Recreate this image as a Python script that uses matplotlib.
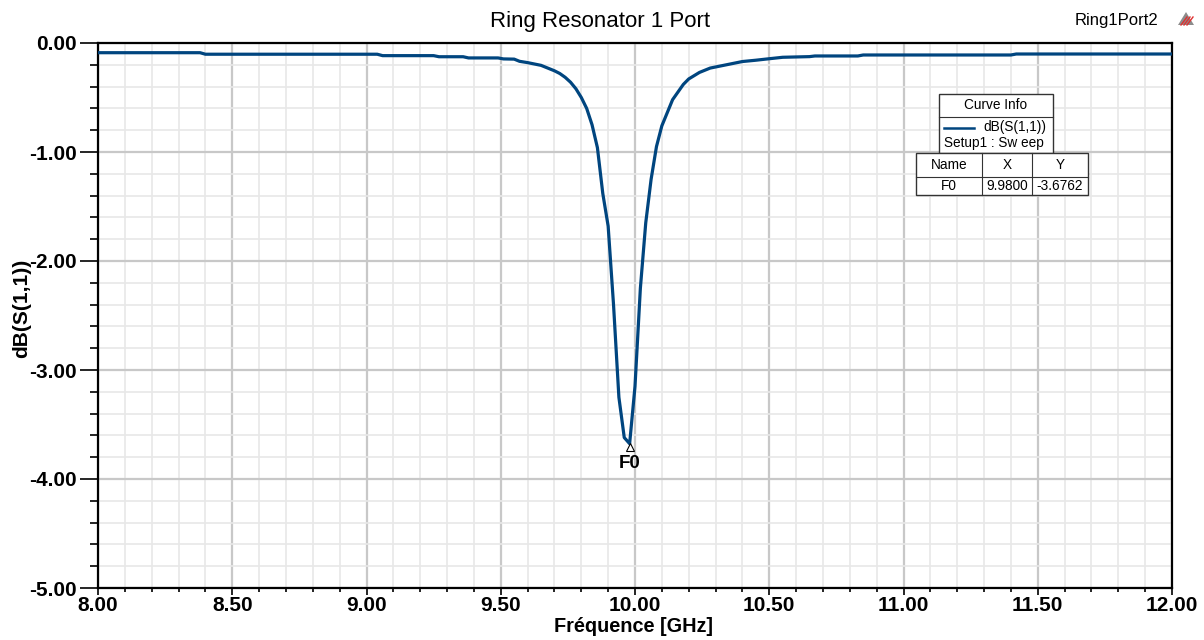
import numpy as np
import matplotlib.pyplot as plt
from matplotlib.ticker import MultipleLocator
from matplotlib.patches import Rectangle, Polygon
from matplotlib.lines import Line2D

plt.rcParams['font.family'] = ['Liberation Sans', 'DejaVu Sans']

# sweep (GHz, dB)
freq = [8.00, 8.38, 8.40, 9.04, 9.06, 9.25, 9.27, 9.36, 9.38, 9.49, 9.51,
        9.55, 9.57, 9.60, 9.65, 9.70, 9.72, 9.74, 9.76, 9.78, 9.80, 9.82,
        9.84, 9.86, 9.88, 9.90, 9.92, 9.94, 9.96, 9.98, 10.00, 10.02, 10.04,
        10.06, 10.08, 10.10, 10.12, 10.14, 10.16, 10.18, 10.20, 10.22, 10.24,
        10.26, 10.28, 10.30, 10.35, 10.40, 10.45, 10.49, 10.55, 10.65, 10.67,
        10.83, 10.85, 11.40, 11.42, 12.00]
s11 = [-0.089, -0.089, -0.103, -0.103, -0.116, -0.116, -0.126, -0.126, -0.137,
       -0.137, -0.146, -0.148, -0.168, -0.18, -0.205, -0.255, -0.28, -0.315,
       -0.36, -0.42, -0.50, -0.60, -0.75, -0.96, -1.38, -1.68, -2.40, -3.25,
       -3.62, -3.676, -3.15, -2.25, -1.65, -1.25, -0.95, -0.76, -0.64, -0.52,
       -0.45, -0.38, -0.33, -0.30, -0.27, -0.25, -0.23, -0.22, -0.195, -0.17,
       -0.158, -0.147, -0.131, -0.125, -0.119, -0.119, -0.110, -0.110, -0.101,
       -0.101]

marker_f = 9.98
marker_v = -3.6762

xticks = [8.0, 8.5, 9.0, 9.5, 10.0, 10.5, 11.0, 11.5, 12.0]
yticks = [0.0, -1.0, -2.0, -3.0, -4.0, -5.0]

W, H = 1204, 640
fig = plt.figure(figsize=(W / 100, H / 100), dpi=100)
ax = fig.add_axes([98 / W, 1 - 588 / H, (1172 - 98) / W, (588 - 43) / H])

ax.plot(freq, s11, color='#00457f', lw=2.3, solid_joinstyle='round', zorder=3)
ax.plot([marker_f], [marker_v - 0.03], marker='^', ms=6, mfc='white', mec='black',
        mew=0.8, ls='none', zorder=4)
ax.text(marker_f, marker_v - 0.1, 'F0', ha='center', va='top', fontsize=13.5,
        fontweight='bold', zorder=4)

ax.set_xlim(8, 12)
ax.set_ylim(-5, 0)
ax.set_xticks(xticks)
ax.set_yticks(yticks)
ax.set_xticklabels(['%.2f' % v for v in xticks])
ax.set_yticklabels(['%.2f' % v for v in yticks])
ax.xaxis.set_minor_locator(MultipleLocator(0.1))
ax.yaxis.set_minor_locator(MultipleLocator(0.2))
ax.grid(which='major', color='#c8c8c8', lw=1.6)
ax.grid(which='minor', color='#e8e8e8', lw=1.2)
ax.set_axisbelow(True)
for s in ax.spines.values():
    s.set_linewidth(1.6)
    s.set_color('black')
ax.tick_params(axis='y', which='major', length=13, width=1.2, labelsize=15, pad=2)
ax.tick_params(axis='y', which='minor', length=6, width=1.2)
ax.tick_params(axis='x', which='major', length=5, width=1.2, labelsize=15, pad=1)
ax.tick_params(axis='x', which='minor', length=3, width=1.2)
for lab in ax.get_xticklabels() + ax.get_yticklabels():
    lab.set_fontweight('bold')

fig.text(600 / W, 1 - 21 / H, 'Ring Resonator 1 Port', ha='center', va='center', fontsize=16)
fig.text(1116 / W, 1 - 21 / H, 'Ring1Port2', ha='center', va='center', fontsize=12)
fig.text(634 / W, 1 - 627 / H, 'Fréquence [GHz]', ha='center', va='center',
         fontsize=14.3, fontweight='bold')
fig.text(22 / W, 1 - 308 / H, 'dB(S(1,1))', ha='center', va='center', rotation=90,
         fontsize=15, fontweight='bold')

# small logo at top right
def P(x, y):
    return (x / W, 1 - y / H)
fig.patches.append(Polygon([P(1178, 25), P(1194, 25), P(1186, 12)], closed=True,
                           transform=fig.transFigure, fc='#8c8c8c', ec='none'))
for k in range(3):
    fig.lines.append(Line2D([(1181 + 3 * k) / W, (1187 + 3 * k) / W],
                            [1 - 25 / H, 1 - 17 / H], transform=fig.transFigure,
                            color='#e03030', lw=1))

# curve info box
def box(x0, y0, x1, y1):
    fig.patches.append(Rectangle(P(x0, y1), (x1 - x0) / W, (y1 - y0) / H,
                                 transform=fig.transFigure, fc='white', ec='#333333',
                                 lw=1, zorder=5))

def hline(x0, x1, y, c='#333333', lw=0.8):
    fig.lines.append(Line2D([x0 / W, x1 / W], [1 - y / H, 1 - y / H],
                            transform=fig.transFigure, color=c, lw=lw, zorder=6))

def vline(x, y0, y1):
    fig.lines.append(Line2D([x / W, x / W], [1 - y0 / H, 1 - y1 / H],
                            transform=fig.transFigure, color='#333333', lw=0.8, zorder=6))

box(939, 94, 1053, 153)
hline(939, 1053, 117)
box(916, 153, 1088, 195)
hline(916, 1088, 176.5)
vline(982, 153, 195)
vline(1032, 153, 195)
hline(944, 974, 127.5, c='#00457f', lw=1.8)

fs = 9.8
fig.text(996 / W, 1 - 105 / H, 'Curve Info', ha='center', va='center', fontsize=fs, zorder=7)
fig.text(983 / W, 1 - 127 / H, 'dB(S(1,1))', ha='left', va='center', fontsize=fs, zorder=7)
fig.text(944 / W, 1 - 143 / H, 'Setup1 : Sw eep', ha='left', va='center', fontsize=fs, zorder=7)
for xc, t in [(949, 'Name'), (1007, 'X'), (1060, 'Y')]:
    fig.text(xc / W, 1 - 165 / H, t, ha='center', va='center', fontsize=fs, zorder=7)
for xc, t in [(949, 'F0'), (1007, '%.4f' % marker_f), (1060, '%.4f' % marker_v)]:
    fig.text(xc / W, 1 - 186 / H, t, ha='center', va='center', fontsize=fs, zorder=7)

fig.savefig('out.png', dpi=100)
